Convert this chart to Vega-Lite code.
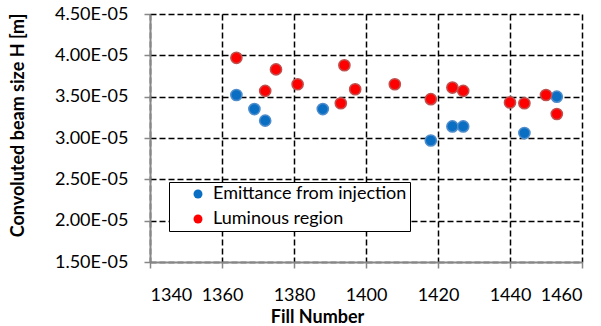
{
  "$schema": "https://vega.github.io/schema/vega-lite/v6.json",
  "width": 432,
  "height": 248,
  "autosize": {"type": "none"},
  "padding": {"left": 150, "top": 14, "right": 19, "bottom": 64},
  "background": "white",
  "config": {
    "font": "Lato",
    "view": {"stroke": null},
    "axis": {
      "labelFont": "Lato",
      "labelFontSize": 18,
      "labelColor": "#000000",
      "titleFont": "Lato",
      "titleFontWeight": "bold",
      "titleFontSize": 18,
      "titleColor": "#000000",
      "domainColor": "#878787",
      "domainWidth": 2,
      "tickColor": "#878787",
      "tickWidth": 1.5,
      "tickSize": 6,
      "gridColor": "#000000",
      "gridWidth": 1.5,
      "gridDash": [6, 3]
    }
  },
  "data": {
    "values": [
      {"fill": 1364, "beam": 3.52e-5, "series": "Emittance from injection"},
      {"fill": 1369, "beam": 3.35e-5, "series": "Emittance from injection"},
      {"fill": 1372, "beam": 3.21e-5, "series": "Emittance from injection"},
      {"fill": 1388, "beam": 3.35e-5, "series": "Emittance from injection"},
      {"fill": 1418, "beam": 2.97e-5, "series": "Emittance from injection"},
      {"fill": 1424, "beam": 3.14e-5, "series": "Emittance from injection"},
      {"fill": 1427, "beam": 3.14e-5, "series": "Emittance from injection"},
      {"fill": 1444, "beam": 3.06e-5, "series": "Emittance from injection"},
      {"fill": 1453, "beam": 3.50e-5, "series": "Emittance from injection"},
      {"fill": 1364, "beam": 3.97e-5, "series": "Luminous region"},
      {"fill": 1372, "beam": 3.57e-5, "series": "Luminous region"},
      {"fill": 1375, "beam": 3.83e-5, "series": "Luminous region"},
      {"fill": 1381, "beam": 3.65e-5, "series": "Luminous region"},
      {"fill": 1393, "beam": 3.42e-5, "series": "Luminous region"},
      {"fill": 1394, "beam": 3.88e-5, "series": "Luminous region"},
      {"fill": 1397, "beam": 3.59e-5, "series": "Luminous region"},
      {"fill": 1408, "beam": 3.65e-5, "series": "Luminous region"},
      {"fill": 1418, "beam": 3.47e-5, "series": "Luminous region"},
      {"fill": 1424, "beam": 3.61e-5, "series": "Luminous region"},
      {"fill": 1427, "beam": 3.57e-5, "series": "Luminous region"},
      {"fill": 1440, "beam": 3.43e-5, "series": "Luminous region"},
      {"fill": 1444, "beam": 3.42e-5, "series": "Luminous region"},
      {"fill": 1450, "beam": 3.52e-5, "series": "Luminous region"},
      {"fill": 1453, "beam": 3.29e-5, "series": "Luminous region"}
    ]
  },
  "mark": {"type": "point", "filled": true, "size": 125, "opacity": 1, "strokeWidth": 1.5},
  "encoding": {
    "x": {
      "field": "fill",
      "type": "quantitative",
      "scale": {"domain": [1340, 1460], "nice": false, "zero": false},
      "axis": {
        "title": "Fill Number",
        "values": [1340, 1360, 1380, 1400, 1420, 1440, 1460],
        "format": "d",
        "labelPadding": 18,
        "titleX": 167,
        "titleY": 55,
        "titleAlign": "center",
        "titleBaseline": "middle"
      }
    },
    "y": {
      "field": "beam",
      "type": "quantitative",
      "scale": {"domain": [0.000015, 0.000045], "nice": false, "zero": false},
      "axis": {
        "title": "Convoluted beam size H [m]",
        "values": [0.000015, 0.00002, 0.000025, 0.00003, 0.000035, 0.00004, 0.000045],
        "labelExpr": "replace(upper(format(datum.value, '.2e')), 'E-5', 'E-05')",
        "labelPadding": 16,
        "titleX": -132,
        "titleY": 111,
        "titleAngle": 270,
        "titleAlign": "center",
        "titleBaseline": "middle"
      }
    },
    "color": {
      "field": "series",
      "type": "nominal",
      "scale": {"domain": ["Emittance from injection", "Luminous region"], "range": ["#0A6FC2", "#FF0000"]},
      "legend": {
        "title": null,
        "orient": "none",
        "legendX": 19,
        "legendY": 168,
        "direction": "vertical",
        "fillColor": "white",
        "strokeColor": "black",
        "padding": 3,
        "symbolType": "circle",
        "symbolSize": 80,
        "symbolStrokeWidth": 0,
        "symbolOpacity": 1,
        "symbolOffset": 17,
        "labelFont": "Lato",
        "labelFontSize": 18,
        "labelColor": "#000000",
        "labelOffset": 6,
        "rowPadding": 7,
        "labelLimit": 400,
        "labelExpr": "datum.label == 'Emittance from injection' ? datum.label + '\u00a0\u00a0\u00a0\u00a0\u00a0\u00a0\u00a0\u00a0' : datum.label"
      }
    },
    "stroke": {
      "field": "series",
      "type": "nominal",
      "scale": {"domain": ["Emittance from injection", "Luminous region"], "range": ["#4F8CCB", "#C0504D"]},
      "legend": null
    },
    "order": {"field": "series"}
  }
}
